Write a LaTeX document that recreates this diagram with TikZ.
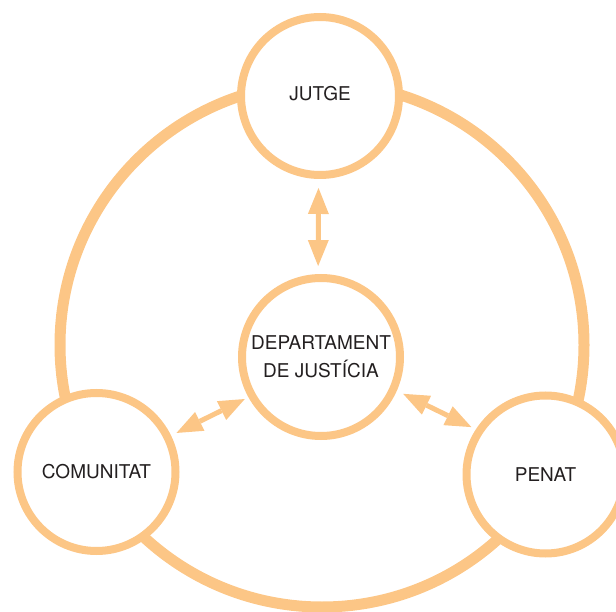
\documentclass[tikz,border=0pt]{standalone}
\usepackage{fontspec}
\setmainfont{TeX Gyre Heros}
\usetikzlibrary{arrows.meta}
\definecolor{ringc}{RGB}{252,198,134}
\definecolor{txtc}{RGB}{35,31,32}
\begin{document}
\begin{tikzpicture}[x=1pt,y=-1pt,
  actor/.style={circle,draw=ringc,line width=8pt,fill=white,minimum size=158pt,
    inner sep=0pt,align=center,text=txtc,font=\fontsize{19}{28}\selectfont},
  tipshape/.tip={Triangle[length=26pt,width=21pt,line width=0pt]},
  link/.style={draw=ringc,line width=5pt,tipshape-tipshape}]
\useasboundingbox (0,0) rectangle (616,612);
\draw[ringc,line width=11pt] (322,345) circle[radius=262];
\node[actor] (jutge) at (320,96) {\raisebox{6pt}{JUTGE}};
\node[actor] (dept) at (321,357) {DEPARTAMENT\\DE JUSTÍCIA};
\node[actor] (com) at (96.5,472) {COMUNITAT};
\node[actor] (penat) at (545.5,474.5) {PENAT};
\draw[link,shorten <=9pt,shorten >=8pt] (jutge.-91) -- (dept.92);
\draw[link,shorten <=4pt,shorten >=6pt] (dept.209.5) -- (com.26.6);
\draw[link,shorten <=7pt,shorten >=5pt] (dept.-24.3) -- (penat.147.6);
\end{tikzpicture}
\end{document}
